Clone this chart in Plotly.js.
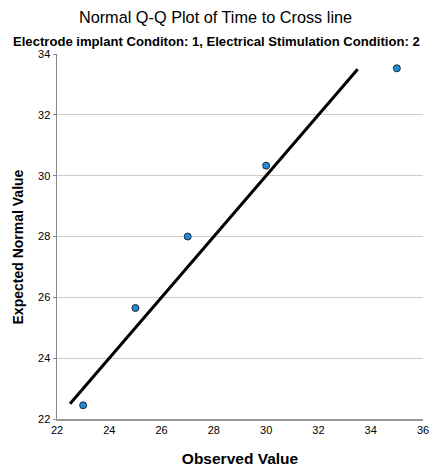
<!DOCTYPE html>
<html><head><meta charset="utf-8">
<script src="https://cdn.plot.ly/plotly-3.0.1.min.js"></script>
<style>html,body{margin:0;padding:0;background:#fff}#chart{width:431px;height:472px}</style>
</head><body><div id="chart"></div>
<script>
var observed = [23, 25, 27, 30, 35];
var expected = [22.45, 25.65, 28.0, 30.33, 33.53];
var refLine = [22.5, 33.5];
var xTicks = [22, 24, 26, 28, 30, 32, 34, 36];
var yTicks = [22, 24, 26, 28, 30, 32, 34];

var font = 'Liberation Sans, Arial, sans-serif';
var traces = [
  {x: refLine, y: refLine, mode: 'lines', line: {color: '#000', width: 3}, hoverinfo: 'skip'},
  {x: observed, y: expected, mode: 'markers',
   marker: {color: '#1f8ad6', size: 7, line: {color: '#1a2a3a', width: 1}}}
];
var layout = {
  width: 431, height: 472,
  margin: {l: 57, r: 8, t: 54, b: 53},
  showlegend: false,
  paper_bgcolor: '#fff', plot_bgcolor: '#fff',
  font: {family: font, color: '#000', size: 11},
  title: {text: 'Normal Q-Q Plot of Time to Cross line', x: 0.5, xanchor: 'center', y: 0.964, yanchor: 'middle',
          font: {size: 16.3, family: font}},
  annotations: [
    {text: '<b>Electrode implant Conditon: 1, Electrical Stimulation Condition: 2</b>',
     xref: 'paper', yref: 'paper', x: 0.435, xanchor: 'center', y: 1, yanchor: 'bottom', yshift: 3,
     showarrow: false, font: {size: 13.1, family: font}},
    {text: '<b>Expected Normal Value</b>', textangle: -90,
     xref: 'paper', yref: 'paper', x: -0.1066, xanchor: 'center', y: 0.4726, yanchor: 'middle',
     showarrow: false, font: {size: 14, family: font}}
  ],
  xaxis: {range: [22, 36], tickvals: xTicks, ticktext: xTicks.map(String), showgrid: false, zeroline: false,
          showline: true, linecolor: '#999', linewidth: 2, ticks: '', ticklen: 0,
          title: {text: '<b>Observed Value</b>', font: {size: 15.5, family: font}, standoff: 18},
          tickfont: {size: 11}},
  yaxis: {range: [22, 34], tickvals: yTicks, ticktext: yTicks.map(String), showgrid: true, gridcolor: '#cccccc',
          gridwidth: 1, zeroline: false, showline: true, linecolor: '#888', linewidth: 1.5,
          ticks: 'outside', ticklen: 3, tickcolor: '#888',
          tickfont: {size: 11}}
};
Plotly.newPlot('chart', traces, layout, {displayModeBar: false, staticPlot: true});
</script></body></html>
